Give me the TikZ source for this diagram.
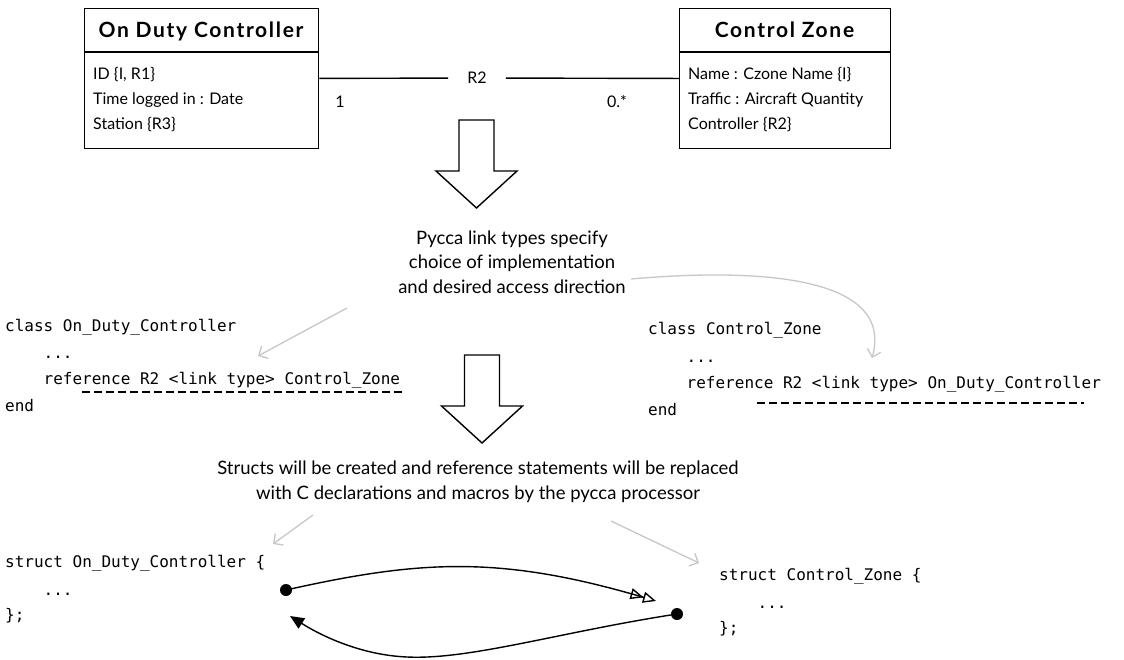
\documentclass[tikz,border=0pt]{standalone}
\usepackage{fontspec}
\setmainfont{Lato}
\setmonofont{DejaVu Sans Mono}
\newfontfamily\titlefont{Lato}[LetterSpace=8]
\usetikzlibrary{arrows.meta}
\begin{document}
\begin{tikzpicture}[x=1pt,y=-1pt,
  umlbox/.style={draw, line width=1.4pt, anchor=north west, inner sep=0pt},
  title/.style={font=\fontsize{21}{24}\titlefont\bfseries, anchor=base},
  attr/.style={font=\fontsize{16}{19}\selectfont, anchor=base west, inner sep=0pt},
  label/.style={font=\fontsize{16}{19}\selectfont},
  code/.style={font=\fontsize{16}{20}\selectfont\ttfamily, anchor=base west, inner sep=0pt},
  note/.style={font=\fontsize{18.5}{24.5}\selectfont, align=center, inner sep=0pt},
  hint/.style={draw=black!22, line width=1.3pt, -{Straight Barb[length=7pt,width=14pt]}},
  link/.style={line width=1.4pt},
  dot/.style={circle, fill=black, inner sep=0pt, minimum size=12pt},
  underl/.style={line width=1.5pt, dash pattern=on 8pt off 4pt},
  blockarrow/.pic={
    \draw[line width=1.4pt, fill=white]
      (-17.5,0) -- (17.5,0) -- (17.5,51) -- (40.5,51) -- (0,88)
      -- (-40.5,51) -- (-17.5,51) -- cycle;}
]
\useasboundingbox[fill=white] (0,0) rectangle (1124,659);

% --- class On Duty Controller ---
\node[umlbox, minimum width=234pt, minimum height=140pt] (odc) at (84,8) {};
\draw[link] ([yshift=-44pt]odc.north west) -- ([yshift=-44pt]odc.north east);
\node[title] (odct) at (201,37.5) {On Duty Controller};
\node[attr] (odca1) at (93,79) {ID \{I, R1\}};
\node[attr] (odca2) at (93,104) {Time logged in : Date};
\node[attr] (odca3) at (93,129) {Station \{R3\}};

% --- class Control Zone ---
\node[umlbox, minimum width=211pt, minimum height=140pt] (cz) at (679,8) {};
\draw[link] ([yshift=-44pt]cz.north west) -- ([yshift=-44pt]cz.north east);
\node[title] (czt) at (784.5,37.5) {Control Zone};
\node[attr] (cza1) at (688,79) {Name : Czone Name \{I\}};
\node[attr] (cza2) at (688,104) {Traffic : Aircraft Quantity};
\node[attr] (cza3) at (688,129) {Controller \{R2\}};

% --- association R2 ---
\node[label, inner xsep=19pt] (r2) at (477,78) {R2};
\draw[link] (odc) -- (r2) -- (cz);
\node[label] (m1) at (340,102) {1};
\node[label] (m2) at (617,102) {0.*};

% --- first transformation step ---
\pic at (476.5,120) {blockarrow};
\node[note] (pycca) at (512,262) {Pycca link types specify\\choice of implementation\\and desired access direction};

% --- pycca class definitions ---
\node[code] (lc1) at (5,331) {class On\_Duty\_Controller};
\node[code] (lc2) at (43.5,358) {...};
\node[code] (lc3) at (43.5,384) {reference R2 <link type> Control\_Zone};
\node[code] (lc4) at (5,411) {end};
\coordinate (lu1) at (82,392);
\coordinate (lu2) at (405,392);
\draw[underl] (lu1) -- (lu2);

\node[code] (rc1) at (648,334) {class Control\_Zone};
\node[code] (rc2) at (686.5,362) {...};
\node[code] (rc3) at (686.5,388) {reference R2 <link type> On\_Duty\_Controller};
\node[code] (rc4) at (648,415) {end};
\coordinate (ru1) at (757,403);
\coordinate (ru2) at (1084,403);
\draw[underl] (ru1) -- (ru2);

% hints from the note to the class definitions
\coordinate (h1s) at (347,308);
\coordinate (h1e) at (258,356);
\draw[hint] (h1s) -- (h1e);
\coordinate (h2s) at (631,279);
\coordinate (h2e) at (872,358);
\draw[hint] (h2s) .. controls (755,268) and (895,275) .. (h2e);

% --- second transformation step ---
\pic at (482,355) {blockarrow};
\node[note] (structs) at (478,482) {Structs will be created and reference statements will be replaced\\with C declarations and macros by the pycca processor};

% --- generated C structs ---
\node[code] (ls1) at (5,567) {struct On\_Duty\_Controller \{};
\node[code] (ls2) at (43.5,595) {...};
\node[code] (ls3) at (5,620) {\};};

\node[code] (rs1) at (719,580) {struct Control\_Zone \{};
\node[code] (rs2) at (757.5,608) {...};
\node[code] (rs3) at (719,633) {\};};

\coordinate (h3s) at (313,515);
\coordinate (h3e) at (273,544);
\draw[hint] (h3s) -- (h3e);
\coordinate (h4s) at (611,521);
\coordinate (h4e) at (699,563);
\draw[hint] (h4s) -- (h4e);

% --- pointers between the structs ---
\node[dot] (d1) at (286,590) {};
\node[dot] (d2) at (677,614) {};
\coordinate (p1) at (656,601);
\coordinate (p2) at (290,616);
\draw[link, -{Triangle[open,length=13pt,width=11pt]Triangle[open,length=13pt,width=11pt]}]
  (d1.center) .. controls (420,560) and (500,555) .. (p1);
\draw[link, -{Triangle[length=14pt,width=12pt]}]
  (d2.center) .. controls (560,632) and (470,660) .. (407,657)
  .. controls (360,655) and (320,635) .. (p2);
\end{tikzpicture}
\end{document}
